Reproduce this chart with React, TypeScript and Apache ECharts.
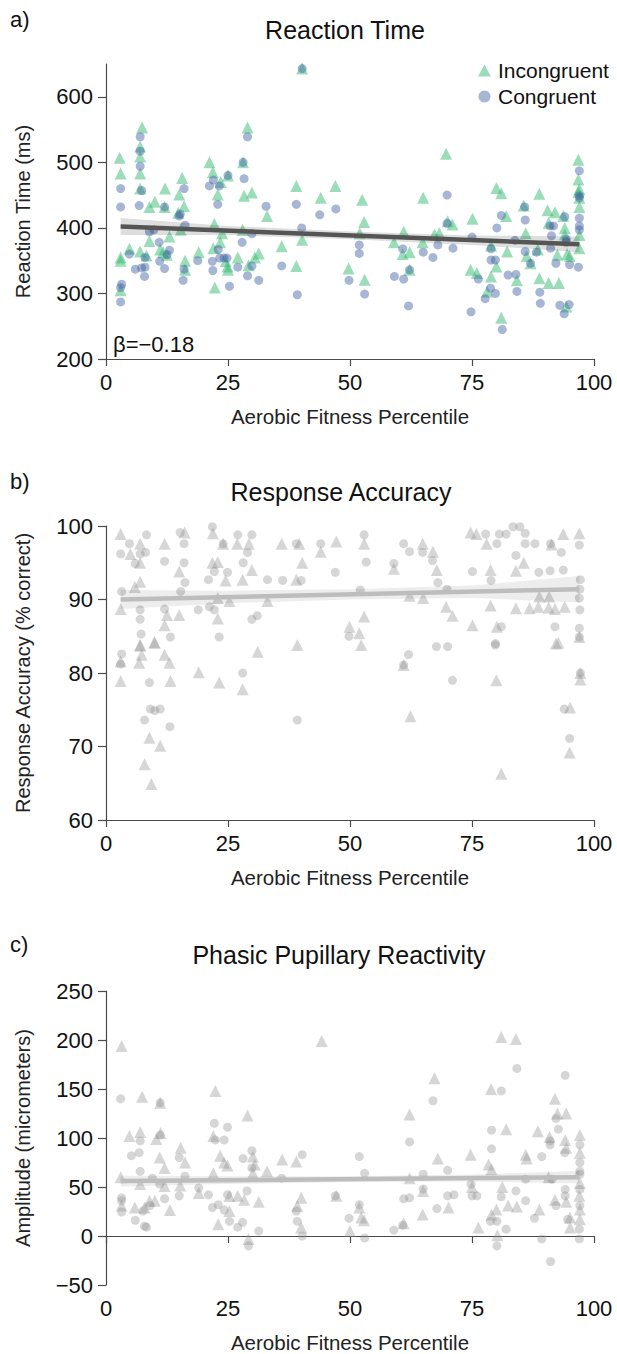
import React, { useEffect, useRef } from "react";
import * as echarts from "echarts";

// ---------- data ----------
const xTicks = [0, 25, 50, 75, 100];
const rtTicks = [200, 300, 400, 500, 600];

// Panel a: Reaction Time (ms) vs aerobic fitness percentile
const rtIncongruent: [number, number][] = [
  [2.8, 507], [3, 483], [7.4, 553], [7, 524], [7, 509], [7, 483], [7, 460], [12.1, 460], [15.6, 476], [15, 451],
  [21.2, 500], [21.9, 485], [22.9, 451], [23.5, 470], [25, 480], [28.1, 500], [29, 553], [29.9, 454], [28.3, 449],
  [40.2, 643], [39, 464], [44, 446], [47, 464], [52.5, 443], [65, 446], [69.7, 513], [80, 461], [81, 453], [88.8, 452],
  [96.8, 504], [96.8, 474], [96.8, 455],
  [3, 355], [3, 350], [3, 305], [4.8, 368], [7, 364], [8.3, 358], [8.9, 380], [8.9, 432], [10, 440], [11.1, 367],
  [11.7, 363], [12, 432], [12.5, 359], [13, 387], [14.8, 423], [16, 433], [16.2, 350], [15.3, 397], [16.2, 336],
  [19, 363], [22.2, 406], [22, 369], [22.3, 309], [23.4, 378], [23.8, 392], [24.5, 349], [24.9, 341], [25, 336],
  [27, 355], [28, 397], [29.2, 343], [30.5, 355], [31.3, 361], [33, 418], [36, 372], [39, 342], [40.2, 382],
  [49.7, 338], [52.9, 409], [53, 321], [52, 392], [59, 378], [61, 394], [60.8, 360], [62.2, 363], [62.2, 336],
  [64.9, 378], [67.3, 390], [68.3, 392], [70, 410], [71, 405], [74.7, 336], [75.1, 414], [76, 331], [78.1, 303],
  [78.9, 326], [78.9, 373], [80, 341], [81, 263], [82, 418], [82.2, 364], [84.2, 320], [85.6, 434], [86, 392],
  [86.2, 357], [87, 346], [88.5, 367], [88.8, 323], [90.5, 427], [90.7, 408], [90.7, 316], [92, 424], [92.5, 359],
  [92.8, 316], [93.7, 418], [94, 400], [94, 390], [94.3, 280], [94.5, 360], [95, 357], [97, 459], [97, 446],
  [97, 432], [97, 389], [97, 369],
];
const rtCongruent: [number, number][] = [
  [3, 460], [7, 539], [7, 517], [7, 494], [7.3, 457], [16, 460], [21.2, 464], [22, 473], [23.2, 464], [25, 480],
  [28.1, 500], [28.3, 475], [29, 539], [40.2, 643], [69.9, 450], [97, 487], [97, 449],
  [3, 432], [3.2, 314], [3, 309], [3, 287], [4.8, 360], [6, 337], [6.8, 434], [7.3, 339], [8, 355], [7.9, 326],
  [8, 340], [8.9, 394], [9.8, 397], [10.9, 378], [11, 349], [12, 432], [12, 338], [12.5, 359], [13, 366], [15, 418],
  [15.2, 421], [16.2, 404], [16, 337], [15.8, 320], [18.8, 350], [21.8, 349], [21.9, 335], [22.9, 436], [23, 367],
  [23.3, 354], [24.2, 354], [24.8, 354], [25.3, 311], [27, 340], [27.9, 378], [29, 327], [29.9, 342], [29.9, 391],
  [31.3, 320], [32.8, 433], [36, 342], [39, 436], [39.2, 298], [40.1, 400], [43.8, 420], [47.1, 429], [49.8, 320],
  [51.9, 374], [51.9, 361], [53, 299], [59.1, 326], [60.8, 368], [61, 322], [62.2, 336], [62, 281], [65, 363],
  [67, 355], [68, 374], [69.9, 407], [71.1, 369], [75, 386], [74.8, 272], [76.3, 322], [77.7, 292], [78.8, 308],
  [78.9, 368], [78.9, 351], [79.8, 351], [80.1, 400], [79.8, 300], [81.2, 245], [81, 419], [82.4, 328], [83.8, 381],
  [84.2, 303], [84, 329], [85.8, 432], [85.9, 412], [85.9, 364], [87, 346], [88.2, 363], [88.9, 302], [89, 285],
  [91, 403], [91.3, 388], [91.1, 369], [91.7, 403], [92.2, 346], [93, 282], [94, 417], [94.3, 383], [94.3, 378],
  [93.9, 269], [94.9, 283], [95, 344], [97, 446], [97, 415], [97, 403], [97, 397], [96.8, 340],
];

// Panel b: Response Accuracy (% correct)
const accIncongruent: [number, number][] = [
  [3, 98.9], [3, 88.7], [5, 96.2], [5.9, 91.7], [7, 97.6], [7, 95], [7, 92.4], [7, 83.8], [9.9, 84.2], [12, 97.6],
  [12, 86.5], [12.5, 87.9], [16.1, 99.1], [15, 93.8], [15, 87.9], [21.9, 99], [21.8, 95], [22.9, 95.1], [22.9, 90.2],
  [22.9, 87.4], [24, 97.6], [24.5, 92.6], [25.3, 89.8], [26.9, 97.6], [28, 92.7], [29.3, 97.6], [29.9, 94],
  [33.1, 89.8], [36, 97.6], [39.6, 97.6], [39, 92.7], [40.2, 95], [44, 96.5], [47.2, 97.9], [49.9, 86.3],
  [51.9, 85.4], [52.9, 97.6], [52.9, 87.7], [59, 94.2], [62.2, 90.5], [64.9, 97.6], [65, 90.2], [67, 96.5],
  [67.8, 94], [69.7, 89], [71, 87.8], [75.1, 86.5], [74.7, 99.1], [75.9, 98.9], [78, 97.6], [78.8, 94], [78.8, 89.2],
  [80.1, 86.3], [85.6, 95], [84, 93.9], [84, 88.8], [86.8, 88.8], [88.8, 90.4], [88.6, 89], [90.7, 88.9],
  [91.3, 97.5], [90.8, 90.4], [92, 88.7], [93.7, 98.9], [94, 89], [92.7, 84.1], [97, 99], [97, 84.9],
  [3, 81.6], [3, 78.9], [7, 83.7], [7.3, 82.5], [6.8, 81.4], [10, 84.1], [12, 82.5], [13, 81.4], [13.2, 78.9],
  [8.9, 71.2], [11.1, 70.1], [7.9, 67.6], [9.3, 64.9], [19, 80.1], [23.2, 78.7], [28, 77.8], [31.1, 82.9],
  [39.2, 83.8], [52.3, 83.8], [61, 81.1], [62.4, 74.1], [80, 79], [81, 66.3], [92.2, 84], [95.1, 75.3], [95, 69.2],
  [97.2, 80], [97.2, 79.1],
];
const accCongruent: [number, number][] = [
  [3, 96.2], [3.2, 91.1], [4.8, 97.6], [6, 94.9], [7, 88.6], [7, 87.3], [7.2, 85.3], [7, 96.2], [8.3, 98.8],
  [8.1, 96.4], [12, 95.2], [12, 88.7], [13.2, 84.9], [15.2, 99.1], [16, 97.6], [16, 95], [16.2, 92.3], [15.3, 91.1],
  [18.9, 88.6], [21, 92.7], [21.8, 99.9], [22.2, 93.8], [21.2, 89], [22.2, 88.6], [23.2, 84.9], [24, 97.6],
  [24.9, 93.7], [27, 98.8], [28.1, 95], [29.9, 98.8], [29, 96.4], [29.9, 87.3], [31, 87.8], [33.1, 92.7],
  [36.2, 92.6], [39, 97.6], [40, 92.6], [44, 97.6], [47, 93.7], [49.8, 85], [52.9, 98.8], [53.3, 95.1],
  [52.1, 91.3], [59, 94.9], [61, 97.6], [62.2, 96.5], [64.9, 96.4], [66.9, 95.3], [68, 92.3], [69.9, 91.4],
  [70, 83.6], [75.1, 93.8], [77.8, 98.9], [80.1, 97.6], [78.9, 92.6], [80.6, 98.9], [82, 98.9], [81, 86.3],
  [79.8, 84], [84, 96], [85.9, 99], [83.4, 99.9], [84.8, 99.9], [85.9, 97.6], [87.9, 97.6], [88.7, 93.7], [91, 93.9],
  [91.1, 97.6], [92, 86.3], [93.3, 96.4], [93.7, 94], [97, 97.4], [97.2, 92.7], [97.1, 91.4], [97, 90.2],
  [97.1, 88.6], [97, 86.1], [97, 84.9],
  [3.2, 82.6], [3, 81.2], [8.9, 78.7], [7.9, 73.6], [9.1, 75.1], [10, 74.9], [11.1, 75.1], [13.1, 72.7], [28, 80],
  [39.2, 73.6], [61, 81.1], [62, 82.5], [67.7, 83.6], [71, 79], [79.8, 83.8], [93.9, 75.1], [95, 71.1], [97.2, 80],
];

// Panel c: Phasic pupillary reactivity amplitude (micrometers)
const ampIncongruent: [number, number][] = [
  [3.2, 194], [7.4, 142], [11.1, 136], [22.4, 148], [44.2, 199], [67.3, 161], [81, 203], [84, 201], [78.9, 150],
  [92, 140], [4.8, 102], [7, 106], [10.3, 99], [11.2, 105], [11, 80], [12, 69.5], [15.3, 90], [16.2, 75], [22, 102],
  [23.4, 82], [24.2, 75], [24.9, 72], [29, 123], [30.1, 81], [30.5, 73], [33, 66], [36.1, 78], [39, 76], [62.2, 124],
  [68, 79], [74.7, 83], [78.4, 73], [79, 68], [82, 109], [86, 83], [86.2, 79], [88.5, 107], [90.9, 101], [92.5, 125],
  [94.3, 125], [94.1, 98], [94.3, 90], [97.1, 103], [97.1, 85],
  [3, 60], [3.2, 31], [5.9, 29], [7, 53], [7.9, 29], [8.9, 36], [10, 36], [12, 51], [13.1, 26.5], [15.2, 51.6],
  [19, 44], [22, 64], [23, 12], [25.3, 25.5], [25.3, 40.7], [27, 41], [28.3, 37], [29.2, -3], [30.1, 64], [31.3, 35],
  [39.2, 30.6], [40, 8.6], [40, 39], [47.2, 41], [50, 5], [51.9, 29], [52.3, 19], [52.9, 16], [61, 13], [62.2, 59],
  [64.9, 22], [65, 46], [70.2, 29], [76.3, 8.6], [75, 50], [79, 22], [80, 27], [80.2, 0.8], [81.2, 50], [82.4, 31],
  [84.2, 30], [88.8, 27], [90.7, 60], [92, 37], [94.3, 35], [95.1, 8.6], [95.1, 19], [97.1, 54], [97, 41],
  [97.1, 27], [97.1, 17],
];
const ampCongruent: [number, number][] = [
  [3, 140], [11.1, 136], [67, 138], [84.2, 171], [81, 148], [94.1, 164], [5.2, 82], [7, 97], [6.8, 85], [11.1, 103],
  [15, 80], [22.2, 115], [22.4, 98], [24.2, 98], [24.9, 111], [28.1, 79], [29.9, 87], [36, 59], [40.2, 83],
  [51.9, 81], [53, 64], [62.2, 96], [65, 63], [70, 67], [79, 108], [79, 89], [89.3, 81], [91, 97], [91, 93],
  [92.2, 120], [92.7, 109], [94, 85], [97.1, 93], [97.1, 75], [97.1, 66], [97.1, 63],
  [3.2, 39], [3.2, 36], [3.2, 24.5], [6, 16], [7, 66], [7.6, 25.5], [7.9, 10], [8.3, 9], [9, 31], [9.5, 59],
  [12, 38], [11, 53], [15, 41], [16.2, 61], [19, 49], [21, 42], [21.8, 29], [23, 32], [24.2, 26.5], [24.9, 42],
  [25.3, 15], [27, 9], [28, 14], [28.9, 46], [29.2, -10], [29.9, 69.5], [31.3, 5], [39, 25.5], [39.2, 15],
  [40.2, 0], [47, 41], [49.8, 18], [51.9, 32], [53, -2], [59, 6], [60.8, 11], [61, 38], [62.2, 39], [65, 48],
  [67.8, 28], [70, 41], [71.3, 42], [74.8, 53], [75, 41], [76, 41], [78.8, 15], [80.1, 15], [80.1, -10], [81, 40],
  [82, 7], [84, 46], [86, 36], [86, 58], [87.8, 18], [89.3, -3], [91.1, -26], [91.4, 58], [92.2, 31], [94.1, 47.5],
  [94.1, 41], [94.6, 17], [97.1, 47.5], [97.1, 31], [97, 7], [97, -3],
];

// Regression fits and confidence bands
const fitX = [3, 97];
const rtFit = [402, 375];
const accFit = [90.0, 91.4];
const ampFit = [56, 60];
const bandX = [3, 25, 50, 75, 97];
const rtBandLow = [389, 389, 382.5, 374, 363];
const rtBandHigh = [415, 403, 394.5, 388.5, 387];
const accBandLow = [88.7, 89.5, 90.0, 90.2, 89.6];
const accBandHigh = [91.3, 91.2, 91.4, 91.9, 93.2];
const ampBandLow = [50.5, 53, 55, 55.5, 53.5];
const ampBandHigh = [61.5, 61, 61, 62.7, 66.5];

const FONT = "'Liberation Sans', Arial, Helvetica, sans-serif";

export default function App() {
  const ref = useRef<HTMLDivElement>(null);
  useEffect(() => {
    if (!ref.current) return;
    const chart = echarts.init(ref.current, null, { renderer: "svg" });

    const gridTops = [64, 526, 991];
    const gridHeights = [295, 294, 295];
    const grids = gridTops.map((t, i) => ({ left: 106, top: t, width: 488, height: gridHeights[i] }));

    const axisLineStyle = { color: "#4a4a4a", width: 1.2 };
    const xAxes = [0, 1, 2].map((i) => ({
      type: "value",
      gridIndex: i,
      min: 0,
      max: 100,
      interval: 25,
      axisLine: { show: true, lineStyle: axisLineStyle },
      axisTick: { show: true, length: 7, lineStyle: axisLineStyle, customValues: xTicks },
      axisLabel: { fontSize: 22, color: "#111", margin: 12, fontFamily: FONT, customValues: xTicks },
      splitLine: { show: false },
      name: "Aerobic Fitness Percentile",
      nameLocation: "middle",
      nameGap: 47,
      nameTextStyle: { fontSize: 20.5, color: "#222", fontFamily: FONT },
    }));

    const minusFmt = (v: number) => String(v).replace("-", "\u2212");
    const yBase = (i: number) => ({
      type: "value",
      gridIndex: i,
      axisLine: { show: true, lineStyle: axisLineStyle },
      axisTick: { show: true, length: 8, lineStyle: axisLineStyle },
      axisLabel: { fontSize: 22, color: "#111", margin: 13, fontFamily: FONT, formatter: minusFmt },
      splitLine: { show: false },
      nameLocation: "middle",
      nameGap: 73,
      nameTextStyle: { fontSize: 20, color: "#222", fontFamily: FONT },
    });
    const yAxes = [
      {
        ...yBase(0),
        min: 200,
        max: 650,
        interval: 50,
        axisTick: { show: true, length: 8, lineStyle: axisLineStyle, customValues: rtTicks },
        axisLabel: { fontSize: 22, color: "#111", margin: 13, fontFamily: FONT, customValues: rtTicks },
        name: "Reaction Time (ms)",
      },
      { ...yBase(1), min: 60, max: 100, interval: 10, name: "Response Accuracy (% correct)" },
      { ...yBase(2), min: -50, max: 250, interval: 50, name: "Amplitude (micrometers)" },
    ];

    const green = "rgba(38,182,103,0.58)";
    const blue = "rgba(63,97,163,0.58)";
    const gray = "rgba(140,140,140,0.45)";

    const scatter = (name: string, data: [number, number][], i: number, symbol: string, color: string, size: number) => ({
      type: "scatter",
      name,
      xAxisIndex: i,
      yAxisIndex: i,
      data,
      symbol,
      symbolSize: size,
      itemStyle: { color },
      z: 2,
      silent: true,
    });

    const band = (i: number, low: number[], high: number[], fill: string) => ({
      type: "custom",
      xAxisIndex: i,
      yAxisIndex: i,
      data: bandX.map((x, k) => [x, low[k], high[k]]),
      encode: { x: 0, y: [1, 2] },
      z: 3,
      silent: true,
      renderItem: (params: any, api: any) => {
        if (params.dataIndex !== 0) return null;
        const upper = bandX.map((x, k) => api.coord([x, high[k]]));
        const lower = bandX.map((x, k) => api.coord([x, low[k]])).reverse();
        return { type: "polygon", shape: { points: upper.concat(lower) }, style: { fill } };
      },
    });

    const fitLine = (i: number, ys: number[], color: string) => ({
      type: "line",
      xAxisIndex: i,
      yAxisIndex: i,
      data: fitX.map((x, k) => [x, ys[k]]),
      symbol: "none",
      lineStyle: { color, width: 4.5 },
      z: 4,
      silent: true,
    });

    const option: any = {
      animation: false,
      backgroundColor: "#fff",
      textStyle: { fontFamily: FONT },
      grid: grids,
      xAxis: xAxes,
      yAxis: yAxes,
      title: [
        { text: "Reaction Time", left: 345, top: 30, textAlign: "center", textVerticalAlign: "middle" },
        { text: "Response Accuracy", left: 341, top: 492, textAlign: "center", textVerticalAlign: "middle" },
        { text: "Phasic Pupillary Reactivity", left: 339, top: 955, textAlign: "center", textVerticalAlign: "middle" },
      ].map((t) => ({
        ...t,
        padding: 0,
        textStyle: { fontSize: 25, fontWeight: "normal", color: "#111", fontFamily: FONT },
      })),
      legend: {
        orient: "vertical",
        left: 478,
        top: 60,
        itemGap: 5,
        itemWidth: 13,
        itemHeight: 12,
        padding: 0,
        selectedMode: false,
        textStyle: { fontSize: 21, color: "#111", fontFamily: FONT, padding: [0, 0, 0, 2] },
        data: [
          { name: "Incongruent", icon: "triangle" },
          { name: "Congruent", icon: "circle" },
        ],
      },
      graphic: [
        { type: "text", left: 10, top: 8, style: { text: "a)", fontSize: 22, fill: "#111", fontFamily: FONT } },
        { type: "text", left: 10, top: 470, style: { text: "b)", fontSize: 22, fill: "#111", fontFamily: FONT } },
        { type: "text", left: 10, top: 933, style: { text: "c)", fontSize: 22, fill: "#111", fontFamily: FONT } },
        { type: "text", left: 113, top: 333, style: { text: "\u03b2=\u22120.18", fontSize: 22, fill: "#111", fontFamily: FONT } },
      ],
      series: [
        scatter("Incongruent", rtIncongruent, 0, "triangle", green, 12),
        scatter("Congruent", rtCongruent, 0, "circle", blue, 9),
        band(0, rtBandLow, rtBandHigh, "rgba(0,0,0,0.13)"),
        fitLine(0, rtFit, "#555555"),
        scatter("Incongruent accuracy", accIncongruent, 1, "triangle", gray, 12),
        scatter("Congruent accuracy", accCongruent, 1, "circle", gray, 9),
        band(1, accBandLow, accBandHigh, "rgba(0,0,0,0.07)"),
        fitLine(1, accFit, "#bdbdbd"),
        scatter("Incongruent amplitude", ampIncongruent, 2, "triangle", gray, 12),
        scatter("Congruent amplitude", ampCongruent, 2, "circle", gray, 9),
        band(2, ampBandLow, ampBandHigh, "rgba(0,0,0,0.07)"),
        fitLine(2, ampFit, "#bdbdbd"),
      ],
    };

    chart.setOption(option);
    return () => chart.dispose();
  }, []);

  return (
    <div
      ref={ref}
      style={{ position: "absolute", left: 0, top: 0, width: 617, height: 1354, background: "#fff" }}
    />
  );
}
